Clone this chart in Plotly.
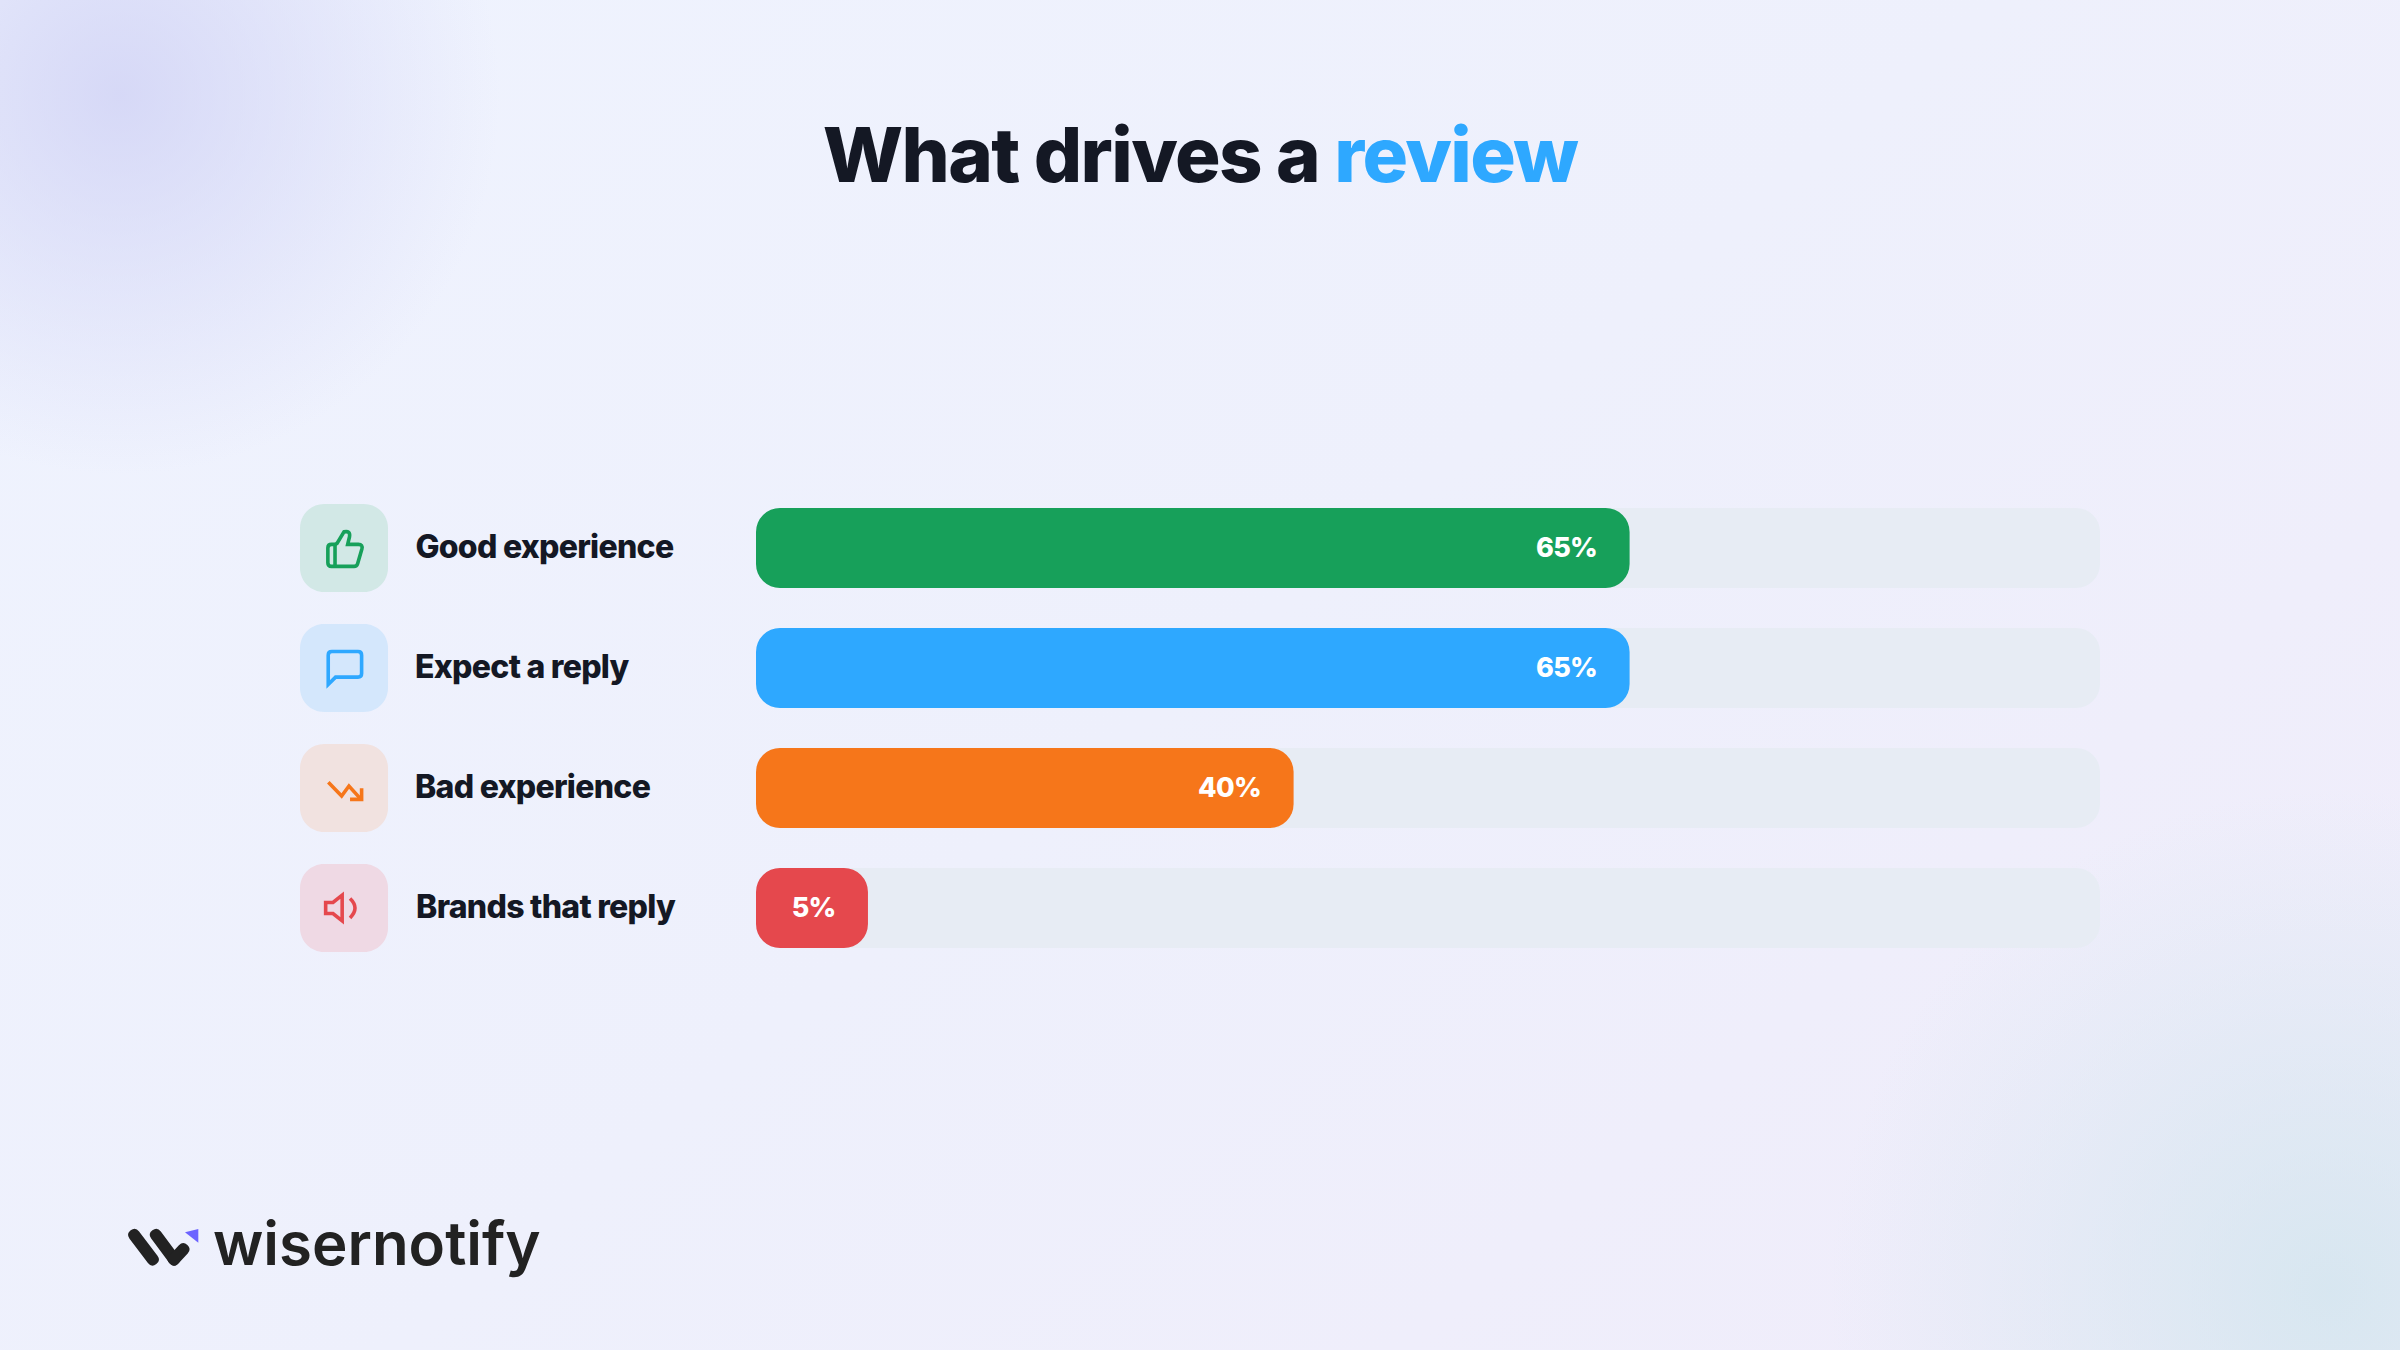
import re
import plotly.graph_objects as go

# ==== DATA ====
categories = ["Good experience", "Expect a reply", "Bad experience", "Brands that reply"]
values = [65, 65, 40, 5]
value_labels = ["65%", "65%", "40%", "5%"]
bar_colors = ["#17A05A", "#2EA8FF", "#F6761A", "#E5484D"]
tile_colors = ["#D2E8E6", "#D4E7FC", "#F1E2E0", "#EFD9E4"]

# the original keeps short bars wide enough to hold their label
MIN_BAR = 8.33

W, H = 2400, 1350
TRACK_LEFT, TRACK_RIGHT = 756, 2100
ROW_TOP, ROW_H = 488, 120
DARK = "#141824"

# icons on a 24 unit grid, absolute commands only
icons = [
    ["M7.1 10V22",
     "M15 5.88L14 10H19.83Q22.4 10 21.75 12.56L19.42 20.56Q19 22 17.5 22H5.2Q3.2 22 3.2 20V12Q3.2 10 5.2 10H6.76"
     "Q8.1 10 8.55 8.89L12 3.2Q15.6 2.4 15 5.88Z"],
    ["M21.6 15Q21.6 17 19.6 17H7.4L3.4 21V5Q3.4 3 5.4 3H19.6Q21.6 3 21.6 5Z"],
    ["M3.45 8.9L10.7 16.4L14.7 10.9L21.3 18.2", "M15.3 18.2H21.6V12.2"],
    ["M11 5L6 9H2V15H6L11 19Z", "M15.3 6.8Q20.7 12 15.3 17.4"],
]


def px(x, y):
    return f"{x / W:.5f},{1 - y / H:.5f}"


def rounded_rect(x0, y0, x1, y1, r):
    k = r * 0.45
    return (f"M{px(x0 + r, y0)}L{px(x1 - r, y0)}C{px(x1 - k, y0)} {px(x1, y0 + k)} {px(x1, y0 + r)}"
            f"L{px(x1, y1 - r)}C{px(x1, y1 - k)} {px(x1 - k, y1)} {px(x1 - r, y1)}"
            f"L{px(x0 + r, y1)}C{px(x0 + k, y1)} {px(x0, y1 - k)} {px(x0, y1 - r)}"
            f"L{px(x0, y0 + r)}C{px(x0, y0 + k)} {px(x0 + k, y0)} {px(x0 + r, y0)}Z")


def capsule(x0, y0, x1, y1, r):
    length = ((x1 - x0) ** 2 + (y1 - y0) ** 2) ** 0.5
    dx, dy = (x1 - x0) / length * r, (y1 - y0) / length * r
    nx, ny = -dy, dx
    return (f"M{px(x0 + nx, y0 + ny)}L{px(x1 + nx, y1 + ny)}"
            f"Q{px(x1 + nx + dx, y1 + ny + dy)} {px(x1 + dx, y1 + dy)}"
            f"Q{px(x1 - nx + dx, y1 - ny + dy)} {px(x1 - nx, y1 - ny)}"
            f"L{px(x0 - nx, y0 - ny)}"
            f"Q{px(x0 - nx - dx, y0 - ny - dy)} {px(x0 - dx, y0 - dy)}"
            f"Q{px(x0 + nx - dx, y0 + ny - dy)} {px(x0 + nx, y0 + ny)}Z")


def icon_path(d, ox, oy, scale=44 / 24):
    # expands H and V, then moves every point from the icon grid to the page
    out = []
    cx, cy = 0, 0
    for cmd, args in re.findall(r"([MLHVQZ])([^MLHVQZ]*)", d):
        nums = [float(n) for n in args.split()] if args.strip() else []
        if cmd == "Z":
            out.append("Z")
        elif cmd == "H":
            cx = nums[0]
            out.append("L" + px(ox + cx * scale, oy + cy * scale))
        elif cmd == "V":
            cy = nums[0]
            out.append("L" + px(ox + cx * scale, oy + cy * scale))
        else:
            pts = [px(ox + nums[i] * scale, oy + nums[i + 1] * scale) for i in range(0, len(nums), 2)]
            cx, cy = nums[-2], nums[-1]
            out.append(cmd + " ".join(pts))
    return "".join(out)


fig = go.Figure()

# track behind each bar
fig.add_trace(go.Bar(
    y=categories,
    x=[100] * len(categories),
    base=[0] * len(categories),
    orientation="h",
    width=80 / ROW_H,
    marker=dict(color="#E7ECF4", cornerradius=24, line=dict(width=0)),
    hoverinfo="skip",
))

bar_lengths = [max(v, MIN_BAR) for v in values]
fig.add_trace(go.Bar(
    y=categories,
    x=bar_lengths,
    base=[0] * len(categories),
    orientation="h",
    width=80 / ROW_H,
    marker=dict(color=bar_colors, cornerradius=24, line=dict(width=0)),
    customdata=values,
    hovertemplate="%{y}: %{customdata}%<extra></extra>",
))

shapes = []
annotations = []

for i, cat in enumerate(categories):
    cy = ROW_TOP + ROW_H * i + 60
    # icon tile
    shapes.append(dict(type="path", xref="paper", yref="paper", layer="below", fillcolor=tile_colors[i],
                       line=dict(width=0), path=rounded_rect(300, cy - 44, 388, cy + 44, 24)))
    for d in icons[i]:
        shapes.append(dict(type="path", xref="paper", yref="paper",
                           line=dict(color=bar_colors[i], width=3.6), path=icon_path(d, 322, cy - 22)))
    # row label
    annotations.append(dict(text=cat, xref="paper", yref="y", x=408 / W, y=cat, xanchor="left", yanchor="middle",
                            yshift=1.5, showarrow=False,
                            font=dict(family="Inter", size=32, color=DARK, weight=800)))
    # value inside the bar
    annotations.append(dict(text=value_labels[i], xref="x", yref="y", x=bar_lengths[i], y=cat,
                            xanchor="right", yanchor="middle", xshift=-30, yshift=1, showarrow=False,
                            font=dict(family="Inter", size=27, color="white", weight=800)))

# ==== LOGO ====
for seg in [(134.3, 1235, 152.7, 1259.3), (156, 1235, 174, 1259.3), (174, 1259.3, 183.3, 1249.3)]:
    shapes.append(dict(type="path", xref="paper", yref="paper", fillcolor="#222222",
                       line=dict(width=0), path=capsule(*seg, 6)))
shapes.append(dict(type="path", xref="paper", yref="paper", fillcolor="#6C63FF", line=dict(width=0),
                   path=f"M{px(185, 1232.3)}L{px(198.3, 1229)}L{px(198.3, 1242.7)}Z"))
annotations.append(dict(text="wisernotify", xref="paper", yref="paper", x=211 / W, y=1 - 1243 / H,
                        xanchor="left", yanchor="middle", showarrow=False,
                        font=dict(family="Inter", size=60, color="#222222", weight=600)))

fig.update_layout(
    width=W,
    height=H,
    margin=dict(l=0, r=0, t=0, b=0, pad=0),
    barmode="overlay",
    showlegend=False,
    paper_bgcolor="rgba(0,0,0,0)",
    plot_bgcolor="rgba(0,0,0,0)",
    title=dict(
        text='What drives a <span style="color:#2EA8FF">review</span>',
        x=0.5,
        xanchor="center",
        xref="paper",
        y=1 - 155 / H,
        yanchor="middle",
        yref="container",
        font=dict(family="Inter", size=76, color=DARK, weight=800),
    ),
    xaxis=dict(domain=[TRACK_LEFT / W, TRACK_RIGHT / W], range=[0, 100], visible=False, fixedrange=True),
    yaxis=dict(
        domain=[1 - (ROW_TOP + ROW_H * 4) / H, 1 - ROW_TOP / H],
        categoryorder="array",
        categoryarray=categories,
        range=[3.5, -0.5],
        visible=False,
        fixedrange=True,
    ),
    shapes=shapes,
    annotations=annotations,
)

# page gradient and the tight letter spacing of the original, neither has a layout option
page_background = """
document.documentElement.style.margin = '0';
document.body.style.margin = '0';
document.body.style.backgroundRepeat = 'no-repeat';
document.body.style.background =
  'radial-gradient(circle 380px at 120px 95px, rgba(208,210,245,0.80), rgba(208,210,245,0) 100%),' +
  'radial-gradient(circle 500px at 2330px 1290px, rgba(205,228,236,0.70), rgba(205,228,236,0) 100%),' +
  'linear-gradient(140deg, #EFF3FE 0%, #EEF0FC 50%, #F0ECFA 100%)';
document.querySelectorAll('.gtitle').forEach(function (t) { t.style.letterSpacing = '-1.6px'; });
document.querySelectorAll('.annotation-text').forEach(function (t) {
  if (t.textContent !== 'wisernotify') { t.style.letterSpacing = '-0.72px'; }
});
"""

fig.write_html("out.html", post_script=page_background, config={"displayModeBar": False})
